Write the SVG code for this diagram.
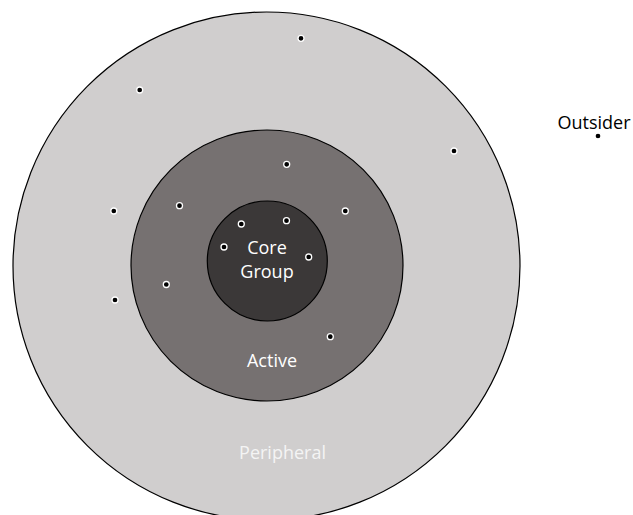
<svg xmlns="http://www.w3.org/2000/svg" width="633" height="515" viewBox="0 0 633 515">
  <style>
    .ring { stroke: #000; stroke-width: 1.2; }
    .dot { fill: #000; stroke: #fff; stroke-width: 1.3; }
    .lbl { font-family: "Open Sans", "Noto Sans", "Liberation Sans", sans-serif; font-size: 18px; text-anchor: middle; }
  </style>
  <rect width="633" height="515" fill="#fff"/>

  <!-- concentric membership zones -->
  <g id="peripheral">
    <ellipse class="ring" cx="266.5" cy="266" rx="253.5" ry="254" fill="#d0cece"/>
    <text class="lbl" x="282.5" y="459" fill="#f4f4f4">Peripheral</text>
  </g>
  <g id="active">
    <ellipse class="ring" cx="267" cy="265.5" rx="136" ry="135.5" fill="#767171"/>
    <text class="lbl" x="272" y="367" fill="#fff">Active</text>
  </g>
  <g id="core-group">
    <ellipse class="ring" cx="267.3" cy="261" rx="60" ry="60" fill="#3b3838"/>
    <text class="lbl" x="267" y="254" fill="#fff">Core</text>
    <text class="lbl" x="267" y="278" fill="#fff">Group</text>
  </g>

  <!-- members -->
  <g id="peripheral-members">
    <circle class="dot" cx="301" cy="38.3" r="3"/>
    <circle class="dot" cx="139.7" cy="90" r="3"/>
    <circle class="dot" cx="454" cy="151" r="3"/>
    <circle class="dot" cx="113.8" cy="211" r="3"/>
    <circle class="dot" cx="115" cy="300" r="3"/>
  </g>
  <g id="active-members">
    <circle class="dot" cx="286.7" cy="164.3" r="3"/>
    <circle class="dot" cx="179.5" cy="205.7" r="3"/>
    <circle class="dot" cx="345.3" cy="211" r="3"/>
    <circle class="dot" cx="166.3" cy="284.5" r="3"/>
    <circle class="dot" cx="330.3" cy="336.7" r="3"/>
  </g>
  <g id="core-members">
    <circle class="dot" cx="241.3" cy="224" r="3"/>
    <circle class="dot" cx="286.5" cy="220.7" r="3"/>
    <circle class="dot" cx="224" cy="247" r="3"/>
    <circle class="dot" cx="308.7" cy="257" r="3"/>
  </g>

  <g id="outsider">
    <text class="lbl" x="594" y="128.5" fill="#000">Outsider</text>
    <circle class="dot" cx="598" cy="136" r="3"/>
  </g>
</svg>
